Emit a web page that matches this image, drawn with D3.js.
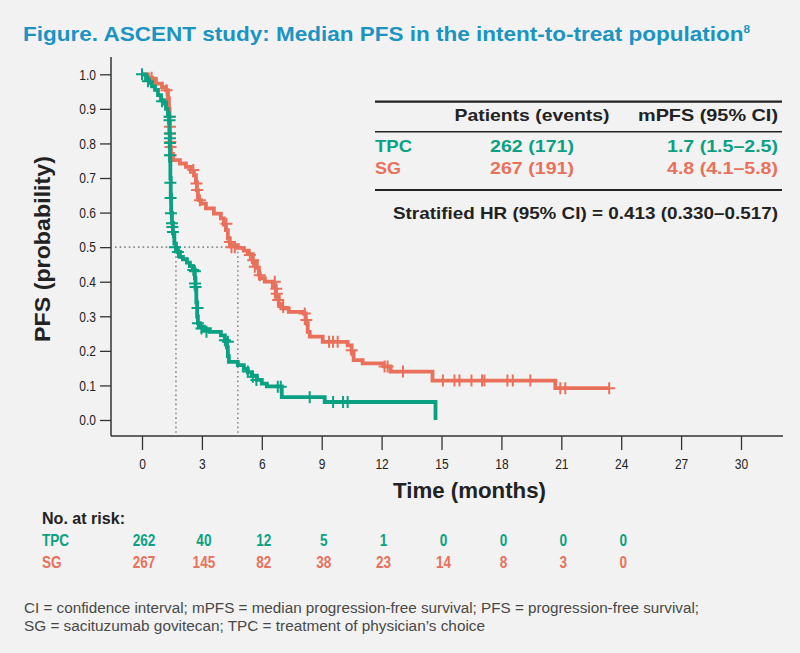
<!DOCTYPE html>
<html><head><meta charset="utf-8">
<script src="https://cdn.jsdelivr.net/npm/d3@7"></script>
<style>body{margin:0;background:#f2f2f2;} svg{display:block;}</style>
</head><body><svg id="c" width="800" height="653"></svg>
<script>
// ---------- data ----------
const timeTicks = [0, 3, 6, 9, 12, 15, 18, 21, 24, 27, 30];
const survTicks = [0, 0.1, 0.2, 0.3, 0.4, 0.5, 0.6, 0.7, 0.8, 0.9, 1.0];
const seriesNames = ["TPC", "SG"];

// [time (months), PFS probability] after each drop
const tpcSteps = [[0,1],[0.2,0.985],[0.35,0.975],[0.5,0.965],[0.65,0.955],[0.8,0.94],[0.95,0.925],[1.1,0.915],[1.2,0.9],[1.3,0.885],
  [1.35,0.86],[1.37,0.83],[1.39,0.79],[1.4,0.75],[1.42,0.7],[1.44,0.65],[1.46,0.6],[1.5,0.57],[1.55,0.54],[1.62,0.51],
  [1.7,0.497],[1.8,0.486],[1.9,0.472],[2.05,0.465],[2.25,0.455],[2.4,0.445],[2.55,0.435],[2.65,0.41],[2.68,0.38],[2.72,0.34],
  [2.76,0.3],[2.8,0.28],[2.9,0.27],[3.1,0.263],[3.4,0.255],[3.95,0.245],[4.15,0.232],[4.25,0.21],[4.3,0.185],[4.35,0.168],
  [4.8,0.159],[5.1,0.148],[5.3,0.138],[5.5,0.128],[5.75,0.116],[6.0,0.105],[6.25,0.097],[7.0,0.066],[9.15,0.052],[14.7,0]];
const sgSteps = [[0,1],[0.3,0.99],[0.5,0.983],[0.7,0.973],[1.0,0.963],[1.2,0.954],[1.3,0.93],[1.35,0.9],[1.38,0.86],[1.4,0.82],
  [1.42,0.79],[1.45,0.77],[1.55,0.752],[1.9,0.742],[2.2,0.732],[2.45,0.718],[2.6,0.708],[2.7,0.689],[2.75,0.665],[2.8,0.645],
  [2.85,0.636],[2.95,0.626],[3.2,0.612],[3.6,0.597],[3.95,0.583],[4.1,0.565],[4.2,0.549],[4.3,0.525],[4.4,0.506],[4.8,0.498],
  [5.1,0.49],[5.3,0.48],[5.55,0.457],[5.75,0.44],[5.85,0.425],[5.9,0.41],[6.15,0.4],[6.55,0.385],[6.7,0.356],[6.85,0.335],
  [6.98,0.323],[7.35,0.313],[8.1,0.308],[8.2,0.28],[8.3,0.255],[8.4,0.241],[9.05,0.226],[10.3,0.216],[10.5,0.195],[10.6,0.173],
  [11.05,0.164],[12.1,0.155],[12.45,0.14],[14.55,0.114],[20.7,0.092],[23.4,0.092]];

// censored observations [time, PFS probability]
const tpcCensor = [[0,1],[0.3,0.98],[1.0,0.922],[1.38,0.877],[1.38,0.867],[1.4,0.829],[1.4,0.815],[1.4,0.801],[1.4,0.766],[1.42,0.686],
  [1.43,0.642],[1.45,0.598],[1.5,0.569],[1.52,0.558],[1.55,0.544],[1.65,0.5],[1.8,0.486],[2.57,0.434],[2.65,0.43],[2.66,0.395],
  [2.68,0.385],[2.78,0.324],[2.8,0.28],[2.98,0.265],[3.23,0.255],[4.15,0.231],[4.3,0.226],[5.3,0.14],[5.55,0.125],[5.73,0.116],
  [6.8,0.096],[6.95,0.096],[8.4,0.066],[9.57,0.052],[10.07,0.052],[10.3,0.052]];
const sgCensor = [[0.48,0.99],[1.23,0.954],[1.4,0.877],[1.4,0.848],[1.4,0.829],[1.42,0.804],[1.43,0.79],[1.44,0.766],[2.57,0.723],
  [2.73,0.684],[2.76,0.665],[2.9,0.636],[4.23,0.568],[4.4,0.515],[4.48,0.5],[4.65,0.5],[5.4,0.477],[5.57,0.462],[5.65,0.443],
  [5.9,0.419],[6.65,0.4],[6.73,0.38],[6.75,0.365],[6.82,0.347],[7.07,0.327],[8.15,0.308],[8.23,0.289],[9.37,0.226],[9.57,0.226],
  [9.8,0.226],[10.5,0.202],[12.15,0.155],[12.3,0.155],[13.07,0.14],[15.07,0.114],[15.65,0.114],[15.9,0.114],[16.5,0.114],
  [17.03,0.114],[17.15,0.114],[18.3,0.114],[18.57,0.114],[19.45,0.114],[20.95,0.092],[21.2,0.092],[23.4,0.092]];

const medians = [1.7, 4.8];
const riskTimes = [0, 3, 6, 9, 12, 15, 18, 21, 24];
const tpcRisk = [262, 40, 12, 5, 1, 0, 0, 0, 0];
const sgRisk = [267, 145, 82, 38, 23, 14, 8, 3, 0];

const tableHeader = ["", "Patients (events)", "mPFS (95% CI)"];
const tableRows = [["TPC", "262 (171)", "1.7 (1.5–2.5)"], ["SG", "267 (191)", "4.8 (4.1–5.8)"]];
const hrText = "Stratified HR (95% CI) = 0.413 (0.330–0.517)";
const titleText = "Figure. ASCENT study: Median PFS in the intent-to-treat population";
const footLines = ["CI = confidence interval; mPFS = median progression-free survival; PFS = progression-free survival;",
  "SG = sacituzumab govitecan; TPC = treatment of physician’s choice"];

// ---------- drawing ----------
const C = {TPC: "#0aa183", SG: "#e9705a", title: "#1b93c3", ink: "#222", grey: "#484848"};
const SANS = "'Liberation Sans', Arial, Helvetica, sans-serif";
const NARROW = "'Liberation Sans Narrow', 'Liberation Sans', Arial, sans-serif";
const svg = d3.select("#c");
svg.append("rect").attr("width", 800).attr("height", 653).attr("fill", "#f2f2f2");

function fit(sel, w) { sel.attr("textLength", w).attr("lengthAdjust", "spacingAndGlyphs"); return sel; }
function condense(sel, f) {
  sel.each(function () { const w = this.getComputedTextLength(); d3.select(this).attr("textLength", w * f).attr("lengthAdjust", "spacingAndGlyphs"); });
  return sel;
}

const x = d3.scaleLinear().domain([0, 30]).range([142, 741]);
const y = d3.scaleLinear().domain([0, 1]).range([420, 74.3]);
const axisLeftX = 111, axisBottomY = 436;

// title
const t = svg.append("text").attr("x", 23).attr("y", 41).attr("fill", C.title)
  .attr("font-family", SANS).attr("font-weight", "bold").attr("font-size", 21);
t.append("tspan").text(titleText);
t.append("tspan").attr("font-size", 11).attr("dy", -8).text("8");
fit(t, 727);

// axes lines
svg.append("line").attr("x1", axisLeftX).attr("x2", axisLeftX).attr("y1", 57).attr("y2", axisBottomY)
  .attr("stroke", "#333").attr("stroke-width", 1.5);
svg.append("line").attr("x1", axisLeftX).attr("x2", 783).attr("y1", axisBottomY).attr("y2", axisBottomY)
  .attr("stroke", "#333").attr("stroke-width", 1.5);

// y axis ticks
const yAxis = d3.axisLeft(y).tickValues(survTicks).tickFormat(d3.format(".1f")).tickSize(11).tickPadding(4);
const gy = svg.append("g").attr("transform", `translate(${axisLeftX},0)`).call(yAxis);
gy.select(".domain").remove();
gy.selectAll("line").attr("stroke", "#333").attr("stroke-width", 1.3);
condense(gy.selectAll("text").attr("font-family", NARROW).attr("font-size", 15).attr("fill", C.ink), 0.8);

// x axis ticks
const xAxis = d3.axisBottom(x).tickValues(timeTicks).tickSize(14).tickPadding(8);
const gx = svg.append("g").attr("transform", `translate(0,${axisBottomY})`).call(xAxis);
gx.select(".domain").remove();
gx.selectAll("line").attr("stroke", "#333").attr("stroke-width", 1.3);
condense(gx.selectAll("text").attr("font-family", NARROW).attr("font-size", 15).attr("fill", C.ink), 0.8);

// axis titles
fit(svg.append("text").attr("x", 393).attr("y", 498).attr("font-family", NARROW).attr("font-weight", "bold")
  .attr("font-size", 22).attr("fill", C.ink).text("Time (months)"), 153);
fit(svg.append("text").attr("transform", "translate(50,342) rotate(-90)").attr("font-family", NARROW)
  .attr("font-weight", "bold").attr("font-size", 22).attr("fill", C.ink).text("PFS (probability)"), 186);

// median reference lines
const dot = {stroke: "#8a8a8a", "stroke-width": 1.6, "stroke-dasharray": "1.6,3"};
function dline(x1, y1, x2, y2) {
  const l = svg.append("line").attr("x1", x1).attr("y1", y1).attr("x2", x2).attr("y2", y2);
  Object.entries(dot).forEach(([k, v]) => l.attr(k, v));
}
dline(115, y(0.5), x(d3.max(medians)), y(0.5));
medians.forEach(m => dline(x(m), y(0.5), x(m), axisBottomY));

// KM curves
const line = d3.line().x(d => x(d[0])).y(d => y(d[1])).curve(d3.curveStepAfter);
const curves = [[tpcSteps, tpcCensor, C.TPC], [sgSteps, sgCensor, C.SG]];
[1, 0].forEach(i => {
  const [steps, cens, col] = curves[i];
  svg.append("path").attr("d", line(steps)).attr("fill", "none").attr("stroke", col)
    .attr("stroke-width", 3.8).attr("stroke-linejoin", "miter");
  svg.append("g").selectAll("path").data(cens).join("path")
    .attr("d", d => `M${x(d[0]) - 6},${y(d[1])}h12M${x(d[0])},${y(d[1]) - 6}v12`)
    .attr("stroke", col).attr("stroke-width", 2).attr("fill", "none");
});

// summary table
const tl = 375, tr = 782;
[[101.7, 2.2], [131.7, 1.6], [190, 2.2]].forEach(([yy, w]) =>
  svg.append("line").attr("x1", tl).attr("x2", tr).attr("y1", yy).attr("y2", yy).attr("stroke", C.ink).attr("stroke-width", w));
const colX = [375, 532, 778], colAnchor = ["start", "middle", "end"];
const hdr = svg.append("g").attr("font-family", SANS).attr("font-weight", "bold").attr("font-size", 17).attr("fill", C.ink);
fit(hdr.append("text").attr("x", colX[1]).attr("y", 121).attr("text-anchor", "middle").text(tableHeader[1]), 155);
fit(hdr.append("text").attr("x", colX[2]).attr("y", 121).attr("text-anchor", "end").text(tableHeader[2]), 140);
const rowY = [152, 174];
const rowW = [[37, 84, 111], [26, 84, 111]];
tableRows.forEach((r, i) => {
  r.forEach((cell, j) => {
    fit(svg.append("text").attr("x", colX[j]).attr("y", rowY[i]).attr("text-anchor", colAnchor[j])
      .attr("font-family", SANS).attr("font-weight", "bold").attr("font-size", 17)
      .attr("fill", C[seriesNames[i]]).text(cell), rowW[i][j]);
  });
});
fit(svg.append("text").attr("x", 778).attr("y", 219).attr("text-anchor", "end").attr("font-family", SANS)
  .attr("font-weight", "bold").attr("font-size", 17).attr("fill", C.ink).text(hrText), 385);

// number at risk
fit(svg.append("text").attr("x", 42).attr("y", 524).attr("font-family", NARROW).attr("font-weight", "bold")
  .attr("font-size", 16).attr("fill", C.ink).text("No. at risk:"), 83);
[[tpcRisk, 546, "TPC"], [sgRisk, 568, "SG"]].forEach(([vals, yy, name]) => {
  condense(svg.append("text").attr("x", 42).attr("y", yy).attr("font-family", NARROW).attr("font-weight", "bold")
    .attr("font-size", 16.5).attr("fill", C[name]).text(name), 0.82);
  condense(svg.append("g").selectAll("text").data(vals).join("text")
    .attr("x", (d, i) => x(riskTimes[i]) + 2).attr("y", yy).attr("text-anchor", "middle")
    .attr("font-family", NARROW).attr("font-weight", "bold").attr("font-size", 16.5).attr("fill", C[name])
    .text(d => d), 0.82);
});

// footnote
const fw = [675, 461];
footLines.forEach((s, i) => fit(svg.append("text").attr("x", 24).attr("y", 613 + i * 18)
  .attr("font-family", NARROW).attr("font-size", 14).attr("fill", C.grey).text(s), fw[i]));
</script>
</body></html>
